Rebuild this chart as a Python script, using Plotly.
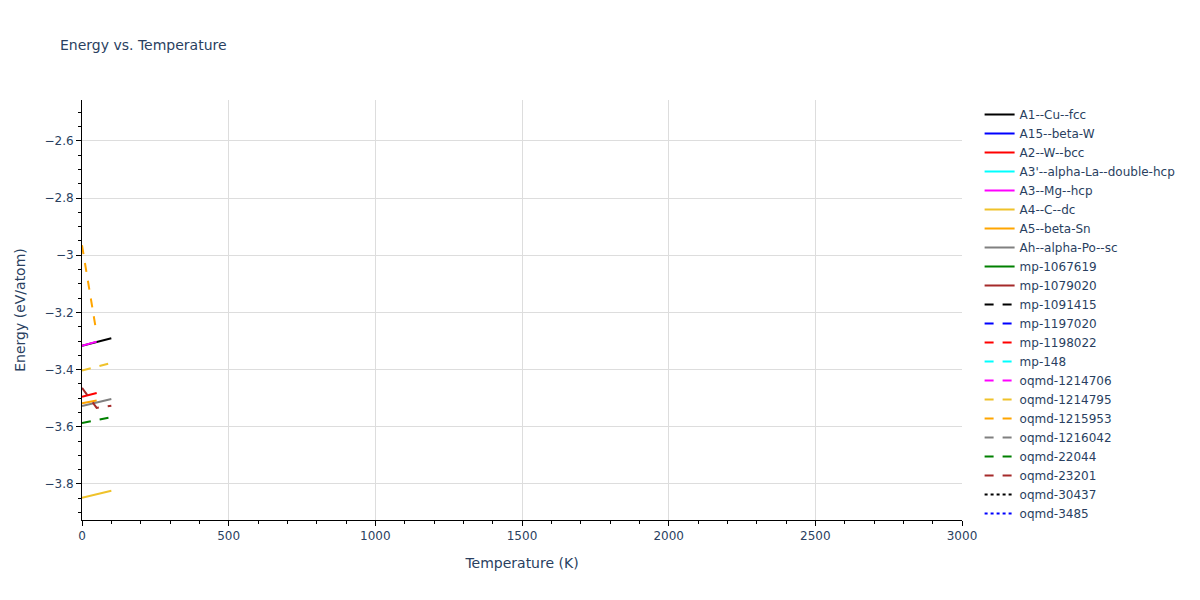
import plotly.graph_objects as go

# temperature grids (K)
t_full = [0, 100]
t_half = [0, 50]
t_three = [0, 50, 100]

names = [
    "A1--Cu--fcc", "A15--beta-W", "A2--W--bcc", "A3'--alpha-La--double-hcp",
    "A3--Mg--hcp", "A4--C--dc", "A5--beta-Sn", "Ah--alpha-Po--sc",
    "mp-1067619", "mp-1079020", "mp-1091415", "mp-1197020", "mp-1198022",
    "mp-148", "oqmd-1214706", "oqmd-1214795", "oqmd-1215953", "oqmd-1216042",
    "oqmd-22044", "oqmd-23201", "oqmd-30437", "oqmd-3485",
]
colors = [
    "black", "blue", "red", "cyan", "magenta", "#EFC22A", "orange", "gray",
    "green", "brown", "black", "blue", "red", "cyan", "magenta", "#EFC22A",
    "orange", "gray", "green", "brown", "black", "blue",
]
dashes = ["solid"] * 10 + ["dash"] * 10 + ["dot"] * 2

# energies (eV/atom); None where nothing is visible
temps = {
    "A1--Cu--fcc": t_full,
    "A2--W--bcc": t_half,
    "A3--Mg--hcp": t_half,
    "A4--C--dc": t_full,
    "A5--beta-Sn": t_half,
    "Ah--alpha-Po--sc": t_full,
    "oqmd-1214795": t_full,
    "oqmd-1215953": t_half,
    "oqmd-22044": t_full,
    "oqmd-23201": t_three,
}
energies = {
    "A1--Cu--fcc": [-3.317, -3.290],
    "A2--W--bcc": [-3.495, -3.482],
    "A3--Mg--hcp": [-3.317, -3.302],
    "A4--C--dc": [-3.848, -3.824],
    "A5--beta-Sn": [-3.518, -3.508],
    "Ah--alpha-Po--sc": [-3.527, -3.503],
    "oqmd-1214795": [-3.403, -3.377],
    "oqmd-1215953": [-2.965, -3.275],
    "oqmd-22044": [-3.587, -3.566],
    "oqmd-23201": [-3.464, -3.534, -3.526],
}

fig = go.Figure()
for name, color, dash in zip(names, colors, dashes):
    fig.add_trace(go.Scatter(
        x=temps.get(name, [None]),
        y=energies.get(name, [None]),
        mode="lines",
        name=name,
        line=dict(color=color, dash=dash, width=2),
    ))

fig.update_layout(
    template="plotly_white",
    width=1200,
    height=600,
    margin=dict(l=72, r=246, t=92, b=88),
    font=dict(family="Verdana, DejaVu Sans, sans-serif"),
    title=dict(text="Energy vs. Temperature", font=dict(size=14), x=0.0433, y=0.947),
    legend=dict(maxheight=600),
    xaxis=dict(
        title="Temperature (K)", range=[0, 3000], dtick=500,
        showline=True, linecolor="black", ticks="outside", tickcolor="black",
        minor=dict(dtick=100, ticks="outside", tickcolor="black", showgrid=False),
        gridcolor="#dddddd", zeroline=False,
    ),
    yaxis=dict(
        title="Energy (eV/atom)", range=[-3.926, -2.457], dtick=0.2,
        showline=True, linecolor="black", ticks="outside", tickcolor="black",
        minor=dict(dtick=0.05, ticks="outside", tickcolor="black", showgrid=False),
        gridcolor="#dddddd", zeroline=False,
    ),
)

fig.write_html("out.html")
